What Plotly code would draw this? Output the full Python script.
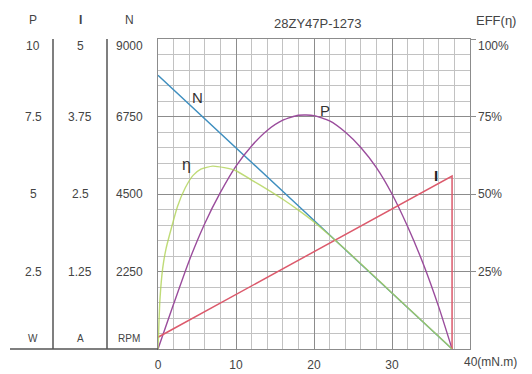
import plotly.graph_objects as go

# ---------------- data ----------------
title_text = "28ZY47P-1273"

torque_N = [0, 6, 11.4, 22.9, 37.7]
speed_N = [7950, 6690, 5560, 3120, 0]          # RPM

torque_P = [0, 2, 4, 6, 8, 10, 12, 14, 16, 18, 19, 20, 22, 24, 26, 28, 30, 32, 34, 36, 37.7]
power_P = [0, 1.45, 2.85, 4.05, 5.05, 5.9, 6.55, 7.05, 7.38, 7.54, 7.55, 7.53, 7.36,
           7.0, 6.5, 5.85, 5.0, 3.95, 2.75, 1.35, 0]          # W

torque_eff = [0, 0.25, 0.6, 1.0, 1.5, 2.5, 3.5, 4.5, 5.5, 7, 8.5, 10, 12, 14, 16, 18,
              20, 22, 24, 26, 28, 30, 32, 34, 36, 37.7]
eff = [0, 16, 26, 32, 37, 46, 52, 56, 58, 59, 58.5, 57.5, 54.5, 51.5, 48.3, 44.8,
       41, 36.7, 32.2, 27.5, 22.8, 18.1, 13.4, 8.7, 4.0, 0]   # %

torque_I = [0, 37.7, 37.7]
current_I = [0.19, 2.79, 0]                     # A

x_ticks = [0, 10, 20, 30, 40]
x_labels = ["0", "10", "20", "30", "40"]
x_unit = "(mN.m)"

p_ticks = [2.5, 5, 7.5, 10]
p_labels = ["2.5", "5", "7.5", "10"]
i_ticks = [1.25, 2.5, 3.75, 5]
i_labels = ["1.25", "2.5", "3.75", "5"]
n_ticks = [2250, 4500, 6750, 9000]
n_labels = ["2250", "4500", "6750", "9000"]
eff_ticks = [25, 50, 75, 100]
eff_labels = ["25%", "50%", "75%", "100%"]

col_heads = ["P", "<b>I</b>", "N"]
col_units = ["W", "A", "RPM"]

# ---------------- figure ----------------
FONT = "Liberation Sans, Arial, sans-serif"
TXT = "#444444"
W, H = 532, 374
ML, MR, MT, MB = 158, 62, 39, 25
PW, PH = W - ML - MR, H - MT - MB


def px_x(px):
    return (px - ML) / PW


def px_y(py):
    return (H - MB - py) / PH


fig = go.Figure()

fig.add_trace(go.Scatter(x=torque_P, y=power_P, yaxis="y2", mode="lines",
                         line=dict(color="#9a4c9c", width=1.4, shape="spline", smoothing=0.6),
                         showlegend=False, hoverinfo="skip"))
fig.add_trace(go.Scatter(x=torque_I, y=current_I, yaxis="y3", mode="lines",
                         line=dict(color="#dc5a6c", width=1.5),
                         showlegend=False, hoverinfo="skip"))
fig.add_trace(go.Scatter(x=torque_N, y=speed_N, yaxis="y", mode="lines",
                         line=dict(color="#3f8fbf", width=1.4),
                         showlegend=False, hoverinfo="skip"))
fig.add_trace(go.Scatter(x=torque_eff, y=eff, yaxis="y4", mode="lines",
                         line=dict(color="rgba(175,210,85,0.8)", width=1.4, shape="spline",
                                   smoothing=0.5),
                         showlegend=False, hoverinfo="skip"))

major = "#8c8c8c"
minor_c = "#c2c2c2"

fig.update_layout(
    width=W, height=H, autosize=False,
    margin=dict(l=ML, r=MR, t=MT, b=MB, autoexpand=False),
    paper_bgcolor="white", plot_bgcolor="white",
    font=dict(family=FONT, size=12, color=TXT),
    xaxis=dict(range=[0, 40], tickvals=x_ticks, ticktext=x_labels[:-1] + [""],
               automargin=False,
               showgrid=True, gridcolor=major, gridwidth=1,
               minor=dict(dtick=2, showgrid=True, gridcolor=minor_c, gridwidth=1),
               showline=True, mirror=True, linecolor=major, linewidth=1,
               ticks="outside", ticklen=5, tickcolor="rgba(0,0,0,0)",
               zeroline=False, tickfont=dict(size=12, color=TXT)),
    yaxis=dict(range=[0, 9000], tickvals=n_ticks, showticklabels=False, automargin=False,
               showgrid=True, gridcolor=major, gridwidth=1,
               minor=dict(dtick=450, showgrid=True, gridcolor=minor_c, gridwidth=1),
               showline=True, mirror=True, linecolor=major, linewidth=1,
               zeroline=False, ticks=""),
    yaxis2=dict(range=[0, 10], overlaying="y", visible=False),
    yaxis3=dict(range=[0, 5], overlaying="y", visible=False),
    yaxis4=dict(range=[0, 100], overlaying="y", side="right", tickvals=eff_ticks,
                automargin=False,
                showticklabels=False, showgrid=False, zeroline=False, showline=False,
                ticks="outside", ticklen=5, tickcolor=major),
)

ann = []
# left column tick labels
col_x = [px_x(33), px_x(80), px_x(129)]
for vals, labs, yref, cx in [(p_ticks, p_labels, "y2", col_x[0]),
                             (i_ticks, i_labels, "y3", col_x[1]),
                             (n_ticks, n_labels, "y", col_x[2])]:
    for k, (v, lab) in enumerate(zip(vals, labs)):
        ann.append(dict(x=cx, y=v, xref="paper", yref=yref, text=lab, showarrow=False,
                        xanchor="center", yanchor="middle",
                        yshift=-7 if k == len(vals) - 1 else 0,
                        font=dict(size=12, color=TXT)))
for cx, head, unit in zip(col_x, col_heads, col_units):
    ann.append(dict(x=cx, y=px_y(20), xref="paper", yref="paper", text=head, showarrow=False,
                    xanchor="center", yanchor="middle", font=dict(size=12, color=TXT)))
    ann.append(dict(x=cx, y=px_y(338), xref="paper", yref="paper", text=unit, showarrow=False,
                    xanchor="center", yanchor="middle", font=dict(size=10, color=TXT)))

# right efficiency tick labels
for k, (v, lab) in enumerate(zip(eff_ticks, eff_labels)):
    ann.append(dict(x=1, y=v, xref="paper", yref="y4", text=lab, showarrow=False,
                    xanchor="left", yanchor="middle", xshift=6,
                    yshift=-7 if k == len(eff_ticks) - 1 else 0,
                    font=dict(size=12, color=TXT)))

# title and EFF label
ann.append(dict(x=px_x(317), y=px_y(23), xref="paper", yref="paper", text=title_text,
                showarrow=False, xanchor="center", yanchor="middle",
                font=dict(size=13, color=TXT)))
ann.append(dict(x=px_x(496), y=px_y(21), xref="paper", yref="paper", text="EFF(η)",
                showarrow=False, xanchor="center", yanchor="middle",
                font=dict(size=13, color=TXT)))
# last x label with unit
ann.append(dict(x=x_ticks[-1], y=px_y(362), xref="x", yref="paper", text=x_labels[-1] + x_unit,
                showarrow=False, xanchor="left", yanchor="middle", xshift=-8,
                font=dict(size=12, color=TXT)))

# curve labels
ann.append(dict(x=5.1, y=7290, xref="x", yref="y", text="N", showarrow=False,
                font=dict(size=15, color="#333333")))
ann.append(dict(x=21.4, y=7.7, xref="x", yref="y2", text="P", showarrow=False,
                font=dict(size=15, color="#333333")))
ann.append(dict(x=3.7, y=59.5, xref="x", yref="y4", text="η", showarrow=False,
                font=dict(size=16, color="#333333")))
ann.append(dict(x=35.6, y=2.8, xref="x", yref="y3", text="<b>I</b>", showarrow=False,
                font=dict(size=15, color="#222222")))

fig.update_layout(annotations=ann)

# separators and baseline of the left scales
shapes = []
for sx in (53, 107):
    shapes.append(dict(type="line", xref="paper", yref="paper", x0=px_x(sx), x1=px_x(sx),
                       y0=0, y1=1, line=dict(color="#555555", width=1.5)))
shapes.append(dict(type="line", xref="paper", yref="paper", x0=px_x(10), x1=0,
                   y0=0, y1=0, line=dict(color="#555555", width=1.5)))
fig.update_layout(shapes=shapes)

fig.write_html("out.html", config={"displayModeBar": False},
               post_script="document.body.style.margin='0px';")
